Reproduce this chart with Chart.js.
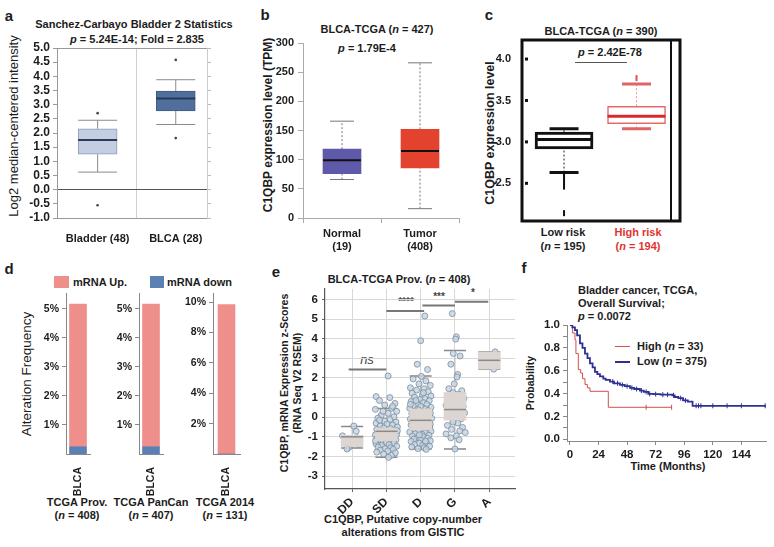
<!DOCTYPE html>
<html>
<head>
<meta charset="utf-8">
<script src="https://cdn.jsdelivr.net/npm/chart.js@4.4.0/dist/chart.umd.min.js"></script>
<style>
  body { margin: 0; background: #fff; }
  #fig { position: relative; width: 774px; height: 547px; overflow: hidden; font-family: "Liberation Sans", Arial, sans-serif; color: #1c1c1c; }
  #fig canvas { position: absolute; }
  .t { position: absolute; white-space: nowrap; font-weight: bold; font-size: 11px; line-height: 1; transform: translate(-50%, -50%); }
  .l { transform: translate(0, -50%); }
  .v { transform: translate(-50%, -50%) rotate(-90deg); }
  .p { font-size: 15px; }
  .sw { position: absolute; }
  .hl { position: absolute; height: 0; }
</style>
</head>
<body>
<div id="fig">
  <!-- a -->
  <div class="t p" style="left:9px;top:15px">a</div>
  <div class="t" style="left:134px;top:24px">Sanchez-Carbayo Bladder 2 Statistics</div>
  <div class="t" style="left:137px;top:39px"><i>p</i> = 5.24E-14; Fold = 2.835</div>
  <div class="t v" style="left:13px;top:126px;font-weight:normal;font-size:13px">Log2 median-centered intensity</div>
  <!-- b -->
  <div class="t p" style="left:265px;top:14px">b</div>
  <div class="t" style="left:377px;top:29px">BLCA-TCGA (<i>n</i> = 427)</div>
  <div class="t" style="left:367px;top:48px"><i>p</i> = 1.79E-4</div>
  <div class="t v" style="left:268px;top:125px;font-size:12px">C1QBP expression level (TPM)</div>
  <!-- c -->
  <div class="t p" style="left:489px;top:14px">c</div>
  <div class="t" style="left:601px;top:31px">BLCA-TCGA (<i>n</i> = 390)</div>
  <div class="t" style="left:610px;top:52px"><i>p</i> = 2.42E-78</div>
  <div class="hl" style="left:575px;top:62px;width:52px;border-top:1px solid #555"></div>
  <div class="t v" style="left:490px;top:133px;font-size:12.5px">C1QBP expression level</div>
  <div class="t" style="left:563px;top:232px">Low risk</div>
  <div class="t" style="left:563px;top:246px">(<i>n</i> = 195)</div>
  <div class="t" style="left:638px;top:232px;color:#e0352f">High risk</div>
  <div class="t" style="left:638px;top:246px;color:#e0352f">(<i>n</i> = 194)</div>
  <!-- d -->
  <div class="t p" style="left:9px;top:268px">d</div>
  <div class="sw" style="left:54px;top:276px;width:15px;height:12px;background:#ef8f8b"></div>
  <div class="t l" style="left:73px;top:282px">mRNA Up.</div>
  <div class="sw" style="left:150px;top:276px;width:14px;height:12px;background:#5b80b4"></div>
  <div class="t l" style="left:167px;top:282px">mRNA down</div>
  <div class="t v" style="left:27px;top:374px;font-weight:normal;font-size:13.5px">Alteration Frequency</div>
  <div class="t" style="left:77px;top:502px">TCGA Prov.</div>
  <div class="t" style="left:77px;top:515px">(<i>n</i> = 408)</div>
  <div class="t" style="left:151px;top:502px">TCGA PanCan</div>
  <div class="t" style="left:151px;top:515px">(<i>n</i> = 407)</div>
  <div class="t" style="left:225px;top:502px">TCGA 2014</div>
  <div class="t" style="left:225px;top:515px">(<i>n</i> = 131)</div>
  <!-- e -->
  <div class="t p" style="left:276px;top:271px">e</div>
  <div class="t" style="left:399px;top:279px">BLCA-TCGA Prov. (<i>n</i> = 408)</div>
  <div class="t v" style="left:284px;top:383px;font-size:10.5px">C1QBP, mRNA Expression z-Scores</div>
  <div class="t v" style="left:297px;top:383px;font-size:10.5px">(RNA Seq V2 RSEM)</div>
  <div class="t" style="left:367px;top:359px;font-weight:normal;font-style:italic;font-size:13px;color:#444">ns</div>
  <div class="t" style="left:406px;top:302px;font-size:10px;color:#444">****</div>
  <div class="t" style="left:439px;top:297px;font-size:10px;color:#444">***</div>
  <div class="t" style="left:473px;top:293px;font-size:10px;color:#444">*</div>
  <div class="t" style="left:403px;top:519px">C1QBP, Putative copy-number</div>
  <div class="t" style="left:403px;top:532px">alterations from GISTIC</div>
  <!-- f -->
  <div class="t p" style="left:524px;top:267px">f</div>
  <div class="t l" style="left:578px;top:290px">Bladder cancer, TCGA,</div>
  <div class="t l" style="left:578px;top:303px">Overall Survival;</div>
  <div class="t l" style="left:578px;top:316px"><i>p</i> = 0.0072</div>
  <div class="hl" style="left:615px;top:346px;width:15px;border-top:1px solid #d0504c"></div>
  <div class="t l" style="left:637px;top:346px">High (<i>n</i> = 33)</div>
  <div class="hl" style="left:615px;top:361px;width:15px;border-top:2px solid #2e3192"></div>
  <div class="t l" style="left:637px;top:361px">Low (<i>n</i> = 375)</div>
  <div class="t v" style="left:530px;top:383px;font-size:10.5px">Probability</div>
  <div class="t" style="left:668px;top:466px">Time (Months)</div>
</div>
<script>
// ---------- data ----------
// a: lo whisker, Q1, median, Q3, hi whisker
const aGroups = ['Bladder (48)', 'BLCA (28)'];
const aStats = [[0.62, 1.25, 1.75, 2.15, 2.45], [2.30, 2.78, 3.22, 3.48, 3.88]];
const aOutliers = [[2.70, -0.55], [4.58, 1.82]];
const aTicks = [-1, -0.5, 0, 0.5, 1, 1.5, 2, 2.5, 3, 3.5, 4, 4.5, 5];

// b
const bGroups = [['Normal', '(19)'], ['Tumor', '(408)']];
const bStats = [[66, 76, 99, 118, 166], [16, 86, 115, 152, 266]];

// c
const cStats = [[2.63, 2.915, 3.03, 3.117, 3.16], [3.16, 3.22, 3.31, 3.43, 3.70]];
const cOutliers = [[2.58, 2.52, 2.46, 2.14], [3.77]];
const cTicks = [2.5, 3.0, 3.5, 4.0];

// d (percent)
const dStudies = ['TCGA Prov.', 'TCGA PanCan', 'TCGA 2014'];
const dUp = [4.92, 4.92, 9.84];
const dDown = [0.25, 0.25, 0];
const dAxisMax = [5.55, 5.55, 10.6];
const dStep = [1, 1, 2];

// e
const eGroups = ['DD', 'SD', 'D', 'G', 'A'];
const eStats = [[-1.57, -1.49, -1.0, -0.92, -0.48], [-2.04, -1.2, -0.72, -0.55, 0.44],
                [-1.62, -0.65, -0.16, 0.42, 2.1], [-1.62, -0.15, 0.39, 1.26, 3.4], [2.45, 2.45, 2.9, 3.32, 3.32]];
// [jitter, z-score]
const eDD = [[0.05, -0.45], [0.12, -0.72], [-0.28, -0.95], [0.15, -1.05], [0.02, -1.12], [0.2, -1.4], [-0.1, -1.55], [-0.15, -1.62]];
const eSD = [[-0.30, 1.05], [0.10, 1.00], [-0.20, 0.85], [0.25, 0.70], [-0.05, 0.62], [0.15, 0.45], [-0.32, 0.40], [0.30, 0.30],
  [0.05, 0.20], [-0.15, 0.10], [0.22, 0.02], [-0.25, -0.05], [0.10, -0.12], [-0.05, -0.20], [0.28, -0.25], [-0.30, -0.30],
  [0.02, -0.35], [0.18, -0.40], [-0.18, -0.45], [0.32, -0.50], [-0.08, -0.55], [0.12, -0.58], [-0.28, -0.62], [0.26, -0.66],
  [-0.12, -0.70], [0.06, -0.74], [-0.22, -0.78], [0.20, -0.80], [-0.02, -0.84], [0.30, -0.88], [-0.32, -0.90], [0.14, -0.93],
  [-0.16, -0.96], [0.04, -1.00], [0.24, -1.02], [-0.26, -1.05], [0.10, -1.08], [-0.06, -1.12], [0.28, -1.15], [-0.20, -1.18],
  [0.16, -1.22], [-0.10, -1.25], [0.00, -1.30], [0.22, -1.33], [-0.30, -1.36], [0.08, -1.40], [-0.14, -1.44], [0.30, -1.48],
  [-0.24, -1.52], [0.12, -1.56], [-0.04, -1.60], [0.20, -1.64], [-0.18, -1.68], [0.04, -1.72], [-0.28, -1.78], [0.26, -1.82],
  [-0.08, -1.88], [0.14, -1.95], [0.06, -2.05], [-0.20, -0.15], [0.18, 0.55], [-0.10, 0.30], [0.32, -0.70], [-0.32, -1.20], [0.05, 2.10]];
const eD = [[0.02, 2.08], [-0.22, 1.95], [0.15, 1.85], [-0.05, 1.70], [0.28, 1.62], [-0.30, 1.50], [0.10, 1.45], [-0.12, 1.38],
  [0.22, 1.30], [-0.25, 1.22], [0.05, 1.15], [0.30, 1.08], [-0.18, 1.02], [0.12, 0.95], [-0.02, 0.90], [0.25, 0.84],
  [-0.28, 0.80], [0.08, 0.74], [-0.10, 0.70], [0.18, 0.65], [-0.22, 0.60], [0.00, 0.55], [0.30, 0.50], [-0.32, 0.46],
  [0.14, 0.42], [-0.06, 0.38], [0.22, 0.34], [-0.16, 0.30], [0.04, 0.26], [0.28, 0.22], [-0.26, 0.18], [0.10, 0.14],
  [-0.12, 0.10], [0.20, 0.06], [-0.20, 0.02], [0.02, -0.02], [0.32, -0.06], [-0.30, -0.10], [0.12, -0.13], [-0.08, -0.16],
  [0.24, -0.20], [-0.18, -0.24], [0.06, -0.28], [-0.02, -0.32], [0.28, -0.36], [-0.28, -0.40], [0.16, -0.44], [-0.12, -0.48],
  [0.02, -0.52], [0.22, -0.56], [-0.22, -0.60], [0.10, -0.64], [-0.06, -0.68], [0.30, -0.72], [-0.32, -0.76], [0.14, -0.80],
  [-0.16, -0.84], [0.04, -0.88], [0.24, -0.92], [-0.24, -0.96], [0.08, -1.00], [-0.10, -1.04], [0.20, -1.08], [-0.20, -1.12],
  [0.00, -1.16], [0.28, -1.20], [-0.28, -1.24], [0.12, -1.28], [-0.04, -1.32], [0.18, -1.36], [-0.18, -1.40], [0.06, -1.44],
  [0.26, -1.48], [-0.26, -1.52], [0.10, -1.56], [-0.08, -1.60], [0.16, -1.64], [-0.14, 0.85], [0.08, 1.25], [-0.24, -0.30],
  [0.20, 0.15], [-0.04, -0.90], [0.14, -1.22], [-0.30, 0.66], [0.26, -0.50], [0.00, 3.90], [0.12, 5.16], [-0.10, 2.70], [0.20, 2.43]];
const eG = [[-0.08, 5.28], [0.04, 4.10], [0.02, 3.98], [-0.05, 3.25], [0.15, 3.12], [-0.12, 2.70], [0.08, 2.18], [0.06, 2.05],
  [-0.02, 1.70], [-0.18, 1.45], [0.20, 1.35], [-0.06, 1.25], [0.10, 1.18], [-0.22, 1.05], [0.26, 0.95], [0.00, 0.85],
  [-0.14, 0.75], [0.16, 0.70], [-0.26, 0.60], [0.24, 0.55], [0.04, 0.48], [-0.08, 0.42], [0.12, 0.36], [-0.20, 0.30],
  [0.28, 0.22], [0.02, 0.12], [-0.16, 0.02], [0.18, -0.08], [-0.04, -0.18], [0.08, -0.30], [-0.22, -0.42], [0.22, -0.52],
  [-0.10, -0.62], [0.14, -0.70], [0.30, -0.78], [-0.26, -0.85], [0.04, -0.95], [-0.12, -1.05], [0.12, -1.15], [0.00, -1.62],
  [-0.06, -0.25], [0.18, 0.98]];
const eA = [[0.17, 3.33], [0.13, 2.45]];
const eMean = [[0.0, -0.72]];     // green marker on SD
const eSig = [[-0.1, 1.0, 2.43], [1.0, 2.1, 5.41], [2.05, 3.0, 5.7], [3.0, 3.97, 5.88]];
const eTicks = [-3, -2, -1, 0, 1, 2, 3, 4, 5, 6];

// f (months, survival probability)
const fHighT = [0, 2.2, 4.2, 5, 7, 9, 10.6, 12.6, 14.6, 16.8, 32.2, 85.4];
const fHighP = [1, 0.93, 0.87, 0.75, 0.61, 0.58, 0.53, 0.48, 0.45, 0.42, 0.28, 0.28];
const fLowT = [0, 2, 4.2, 6, 8.4, 10.5, 12.6, 14.7, 16.8, 19, 21, 23, 25.2, 28, 30, 33.6, 37, 42, 46, 50.4, 54, 58.8, 62, 65.8, 70, 76, 86, 88, 91, 95, 99, 103, 164.7];
const fLowP = [1, 0.98, 0.955, 0.91, 0.84, 0.80, 0.75, 0.71, 0.665, 0.63, 0.59, 0.57, 0.55, 0.53, 0.52, 0.505, 0.49, 0.476, 0.465, 0.45, 0.44, 0.426, 0.415, 0.397, 0.395, 0.39, 0.385, 0.37, 0.36, 0.34, 0.33, 0.293, 0.293];
const fLowCensor = [[36, 0.505], [40, 0.49], [44, 0.476], [48, 0.465], [52, 0.45], [56, 0.44], [60, 0.426], [64, 0.415], [67, 0.397],
  [72, 0.395], [78, 0.39], [82, 0.39], [87, 0.385], [93, 0.36], [97, 0.34], [106, 0.293], [108, 0.293], [110, 0.293],
  [120, 0.293], [132, 0.293], [144, 0.293], [164, 0.293]];
const fHighCensor = [[64, 0.28], [85.4, 0.28]];
const fTicksX = [0, 24, 48, 72, 96, 120, 144];
const fTicksY = [0, 0.1, 0.2, 0.3, 0.4, 0.5, 0.6, 0.7, 0.8, 0.9, 1.0];

// ---------- helpers ----------
Chart.defaults.font.family = '"Liberation Sans", Arial, sans-serif';
Chart.defaults.font.weight = 'bold';
Chart.defaults.font.size = 11;
Chart.defaults.color = '#1c1c1c';

function mk(left, top, w, h, cfg) {
  const cv = document.createElement('canvas');
  cv.width = w; cv.height = h;
  cv.style.left = left + 'px'; cv.style.top = top + 'px';
  cv.style.width = w + 'px'; cv.style.height = h + 'px';
  document.getElementById('fig').appendChild(cv);
  cfg.options = Object.assign({ responsive: false, animation: false, devicePixelRatio: 1 }, cfg.options);
  cfg.options.plugins = Object.assign({ legend: { display: false }, tooltip: { enabled: false } }, cfg.options.plugins || {});
  return new Chart(cv, cfg);
}
const setTicks = arr => s => { s.ticks = arr.map(v => ({ value: v })); };
const width = n => s => { s.width = n; };
const height = n => s => { s.height = n; };

// whiskers, caps and medians for a floating-bar box plot
function boxPlot(stats, st) {
  return {
    id: 'boxplot',
    beforeDatasetsDraw(chart) {
      const { ctx, scales: { x, y } } = chart;
      ctx.save();
      stats.forEach((s, i) => {
        const cx = x.getPixelForValue(i);
        ctx.strokeStyle = st.whisker[i];
        ctx.lineWidth = st.wWidth || 1;
        ctx.setLineDash(st.dash || []);
        ctx.beginPath();
        ctx.moveTo(cx, y.getPixelForValue(s[0])); ctx.lineTo(cx, y.getPixelForValue(s[1]));
        ctx.moveTo(cx, y.getPixelForValue(s[3])); ctx.lineTo(cx, y.getPixelForValue(s[4]));
        ctx.stroke();
        ctx.setLineDash([]);
        ctx.strokeStyle = st.capColor ? st.capColor[i] : st.whisker[i];
        ctx.lineWidth = st.capWidth || 1;
        ctx.beginPath();
        [s[0], s[4]].forEach(v => {
          const py = y.getPixelForValue(v);
          ctx.moveTo(cx - st.cap / 2, py); ctx.lineTo(cx + st.cap / 2, py);
        });
        ctx.stroke();
      });
      ctx.restore();
    },
    afterDatasetDraw(chart, args) {
      if (args.index !== 0) return;
      const { ctx, scales: { x, y } } = chart;
      ctx.save();
      stats.forEach((s, i) => {
        const cx = x.getPixelForValue(i), py = y.getPixelForValue(s[2]);
        ctx.strokeStyle = st.median[i];
        ctx.lineWidth = st.mWidth;
        ctx.beginPath(); ctx.moveTo(cx - st.box / 2, py); ctx.lineTo(cx + st.box / 2, py); ctx.stroke();
      });
      ctx.restore();
    }
  };
}
const boxData = stats => stats.map((s, i) => ({ x: i, y: [s[1], s[3]] }));
const outlierData = groups => groups.flatMap((g, i) => g.map(v => ({ x: i, y: v })));

// ---------- a ----------
mk(0, 0, 240, 270, {
  type: 'bar',
  data: {
    datasets: [
      { data: boxData(aStats), backgroundColor: ['#c4cee2', '#506f9b'], borderColor: ['#8d9ab6', '#3e5b86'],
        borderWidth: 1, borderSkipped: false, barThickness: 39 },
      { type: 'scatter', data: outlierData(aOutliers), pointRadius: 1.3, backgroundColor: '#444', borderWidth: 0 }
    ]
  },
  options: {
    layout: { padding: { left: 0, right: 27, top: 48, bottom: 0 } },
    scales: {
      x: { type: 'linear', min: -0.52, max: 1.4, offset: false, afterBuildTicks: setTicks([0, 0.5, 1]), afterFit: height(52),
           ticks: { callback: v => aGroups[v] || '', padding: 14, autoSkip: false, maxRotation: 0, font: { size: 11 } },
           grid: { offset: false, drawTicks: false, color: c => c.tick && c.tick.value === 0.5 ? '#d0d0d0' : 'transparent' },
           border: { color: '#999' } },
      y: { min: -1, max: 5, afterBuildTicks: setTicks(aTicks), afterFit: width(57),
           ticks: { callback: v => v.toFixed(1), padding: 3, autoSkip: false, font: { size: 12 } },
           grid: { tickLength: 4, tickColor: '#999', color: c => c.tick && c.tick.value === 0 ? '#555' : (c.tick && c.tick.value === 5 ? '#999' : 'transparent') },
           border: { color: '#999' } },
      y2: { position: 'right', min: -1, max: 5, afterBuildTicks: setTicks(aTicks), afterFit: width(6),
            ticks: { display: false, autoSkip: false }, grid: { drawOnChartArea: false, tickLength: 4, tickColor: '#bbb' }, border: { color: '#ccc' } }
    }
  },
  plugins: [boxPlot(aStats, { whisker: ['#8a8a8a', '#8a8a8a'], cap: 39, box: 39, median: ['#2c3a55', '#25385a'], mWidth: 2 })]
});

// ---------- b ----------
mk(260, 0, 250, 270, {
  type: 'bar',
  data: {
    datasets: [
      { data: boxData(bStats), backgroundColor: ['#5e59a8', '#e3432e'], borderColor: ['#5e59a8', '#e3432e'],
        borderWidth: 0, borderSkipped: false, barThickness: 38 }
    ]
  },
  options: {
    layout: { padding: { left: 0, right: 51, top: 43, bottom: 0 } },
    scales: {
      x: { type: 'linear', min: -0.5, max: 1.5, offset: false, afterBuildTicks: setTicks([-0.5, 0, 0.5, 1, 1.5]), afterFit: height(52),
           ticks: { callback: v => Number.isInteger(v) ? bGroups[v] : '', padding: 4, autoSkip: false, minRotation: 0, maxRotation: 0, font: { size: 11 } },
           grid: { offset: false, drawOnChartArea: false, tickLength: 5, tickColor: c => c.tick && Number.isInteger(c.tick.value) ? 'transparent' : '#aaa' },
           border: { color: '#aaa' } },
      y: { min: 0, max: 300, afterBuildTicks: setTicks([0, 50, 100, 150, 200, 250, 300]), afterFit: width(43),
           ticks: { padding: 4, autoSkip: false, font: { size: 11 } },
           grid: { drawOnChartArea: false, tickLength: 5, tickColor: '#aaa' }, border: { color: '#aaa' } }
    }
  },
  plugins: [boxPlot(bStats, { whisker: ['#777', '#777'], dash: [2, 2], cap: 24, box: 38, median: ['#111', '#111'], mWidth: 2 })]
});

// ---------- c ----------
const cFrame = {
  id: 'frame',
  afterDraw(chart) {
    const { ctx, chartArea: a, scales: { y } } = chart;
    ctx.save();
    ctx.strokeStyle = '#111';
    ctx.lineWidth = 3;
    ctx.strokeRect(a.left, a.top, a.right - a.left, a.bottom - a.top);
    ctx.lineWidth = 2;
    ctx.beginPath(); ctx.moveTo(a.right - 9, a.top); ctx.lineTo(a.right - 9, a.bottom); ctx.stroke();
    ctx.fillStyle = '#111';
    cTicks.forEach(v => ctx.fillRect(a.left + 3, y.getPixelForValue(v) - 1.5, 3, 3));
    ctx.restore();
  }
};
mk(470, 0, 304, 270, {
  type: 'bar',
  data: {
    datasets: [
      { data: boxData(cStats), backgroundColor: '#fff', borderColor: ['#111', '#e36a6a'], borderWidth: [3, 1.5],
        borderSkipped: false, barThickness: 58 },
      { type: 'scatter', data: outlierData(cOutliers), pointStyle: 'line', rotation: 90, pointRadius: 3, borderWidth: 2,
        borderColor: c => c.raw && c.raw.x === 1 ? '#e05050' : '#111' }
    ]
  },
  options: {
    layout: { padding: { left: 0, right: 94, top: 40, bottom: 0 } },
    scales: {
      x: { type: 'linear', min: -0.58, max: 1.6, offset: false, afterFit: height(49), ticks: { display: false },
           grid: { display: false }, border: { display: false } },
      y: { min: 2.045, max: 4.23, afterBuildTicks: setTicks(cTicks), afterFit: width(52),
           ticks: { callback: v => v.toFixed(1), padding: 3, autoSkip: false, font: { size: 11 } },
           grid: { display: false }, border: { display: false } }
    }
  },
  plugins: [boxPlot(cStats, { whisker: ['#222', '#ec9a9a'], dash: [2, 2], capColor: ['#111', '#e06666'], capWidth: 3, cap: 29,
                              box: 58, median: ['#111', '#d82a2a'], mWidth: 3 }), cFrame]
});

// ---------- d ----------
const dPos = [[25, 41, 15], [100, 39, 17], [170, 43, 15]]; // canvas left, axis width, right pad
dStudies.forEach((st, k) => {
  const ticks = [];
  for (let v = dStep[k]; v <= dAxisMax[k]; v += dStep[k]) ticks.push(v);
  mk(dPos[k][0], 265, 80 + (k === 2 ? 5 : 0), 240, {
    type: 'bar',
    data: {
      labels: ['BLCA'],
      datasets: [
        { data: [dDown[k]], backgroundColor: '#5b80b4', barThickness: 17 },
        { data: [dUp[k]], backgroundColor: '#ef8f8b', barThickness: 17 }
      ]
    },
    options: {
      layout: { padding: { left: 0, right: dPos[k][2], top: 28, bottom: 0 } },
      scales: {
        x: { stacked: true, afterFit: height(51), ticks: { minRotation: 90, maxRotation: 90, padding: 5, font: { size: 10.5 } },
             grid: { display: false }, border: { color: '#888' } },
        y: { stacked: true, min: 0, max: dAxisMax[k], afterBuildTicks: setTicks(ticks), afterFit: width(dPos[k][1]),
             ticks: { callback: v => v + '%', padding: 3, autoSkip: false, font: { size: 10.5 } },
             grid: { drawOnChartArea: false, tickLength: 4, tickColor: '#888' }, border: { color: '#888' } }
      }
    }
  });
});

// ---------- e ----------
const eSigPlugin = {
  id: 'sig',
  afterDatasetsDraw(chart) {
    const { ctx, scales: { x, y } } = chart;
    ctx.save();
    ctx.strokeStyle = '#777';
    ctx.lineWidth = 2;
    eSig.forEach(s => {
      const py = y.getPixelForValue(s[2]);
      ctx.beginPath(); ctx.moveTo(x.getPixelForValue(s[0]), py); ctx.lineTo(x.getPixelForValue(s[1]), py); ctx.stroke();
    });
    ctx.restore();
  }
};
const ePts = [eDD, eSD, eD, eG, eA].flatMap((g, i) => g.map(p => ({ x: i + p[0], y: p[1] })));
mk(290, 278, 230, 269, {
  type: 'bar',
  data: {
    datasets: [
      { data: boxData(eStats), backgroundColor: '#dcd5d1', borderWidth: 0, borderSkipped: false, barThickness: 22 },
      { type: 'scatter', data: ePts, pointRadius: 3, backgroundColor: 'rgba(196,214,228,0.85)', borderColor: '#7d8c9a', borderWidth: 0.8 },
      { type: 'scatter', data: eMean.map(p => ({ x: 1 + p[0], y: p[1] })), pointRadius: 3, backgroundColor: '#4d9a3a', borderColor: '#3d7a2e', borderWidth: 0.8 }
    ]
  },
  options: {
    layout: { padding: { left: 0, right: 5, top: 8, bottom: 0 } },
    scales: {
      x: { type: 'linear', min: -0.79, max: 4.75, offset: false, afterBuildTicks: setTicks([0, 1, 2, 3, 4]), afterFit: height(58),
           ticks: { callback: v => eGroups[v], minRotation: 45, maxRotation: 45, autoSkip: false, padding: 3, font: { size: 12 } },
           grid: { offset: false, color: '#d8d8d8', tickLength: 3, tickColor: '#666' }, border: { color: '#555', width: 1.2 } },
      y: { min: -3.66, max: 6.54, afterBuildTicks: setTicks(eTicks), afterFit: width(35),
           ticks: { padding: 4, autoSkip: false, font: { size: 11.5 } },
           grid: { color: '#d8d8d8', tickLength: 3, tickColor: '#666' }, border: { color: '#555', width: 1.2 } }
    }
  },
  plugins: [boxPlot(eStats, { whisker: ['#bbb', '#bbb', '#bbb', '#bbb', '#bbb'], capColor: ['#888', '#888', '#888', '#888', '#888'],
                              capWidth: 1.5, cap: 22, box: 22, median: ['#8a8a8a', '#8a8a8a', '#8a8a8a', '#8a8a8a', '#8a8a8a'], mWidth: 1.5 }), eSigPlugin]
});

// ---------- f ----------
mk(520, 300, 254, 180, {
  type: 'line',
  data: {
    datasets: [
      { data: fLowT.map((t, i) => ({ x: t, y: fLowP[i] })), stepped: true, borderColor: '#2e3192', borderWidth: 1.8, pointRadius: 0 },
      { data: fHighT.map((t, i) => ({ x: t, y: fHighP[i] })), stepped: true, borderColor: '#d0504c', borderWidth: 1, pointRadius: 0 },
      { type: 'scatter', data: fLowCensor.map(p => ({ x: p[0], y: p[1] })), pointStyle: 'line', rotation: 90, pointRadius: 2.5, borderColor: '#2e3192', borderWidth: 1 },
      { type: 'scatter', data: fHighCensor.map(p => ({ x: p[0], y: p[1] })), pointStyle: 'line', rotation: 90, pointRadius: 2.5, borderColor: '#d0504c', borderWidth: 1 }
    ]
  },
  options: {
    layout: { padding: { left: 0, right: 8, top: 25, bottom: 0 } },
    scales: {
      x: { type: 'linear', min: -2.5, max: 164.7, afterBuildTicks: setTicks(fTicksX), afterFit: height(39),
           ticks: { padding: 3, autoSkip: false, maxRotation: 0, font: { size: 11.5 } },
           grid: { drawOnChartArea: false, tickLength: 4, tickColor: '#888' }, border: { color: '#888' } },
      y: { min: -0.015, max: 1.0, afterBuildTicks: setTicks(fTicksY), afterFit: width(47),
           ticks: { callback: v => Math.round(v * 10) % 2 ? '' : v.toFixed(1), padding: 3, autoSkip: false, font: { size: 11.5 } },
           grid: { drawOnChartArea: false, tickLength: 4, tickColor: '#888' }, border: { color: '#888' } }
    }
  }
});
</script>
</body>
</html>
